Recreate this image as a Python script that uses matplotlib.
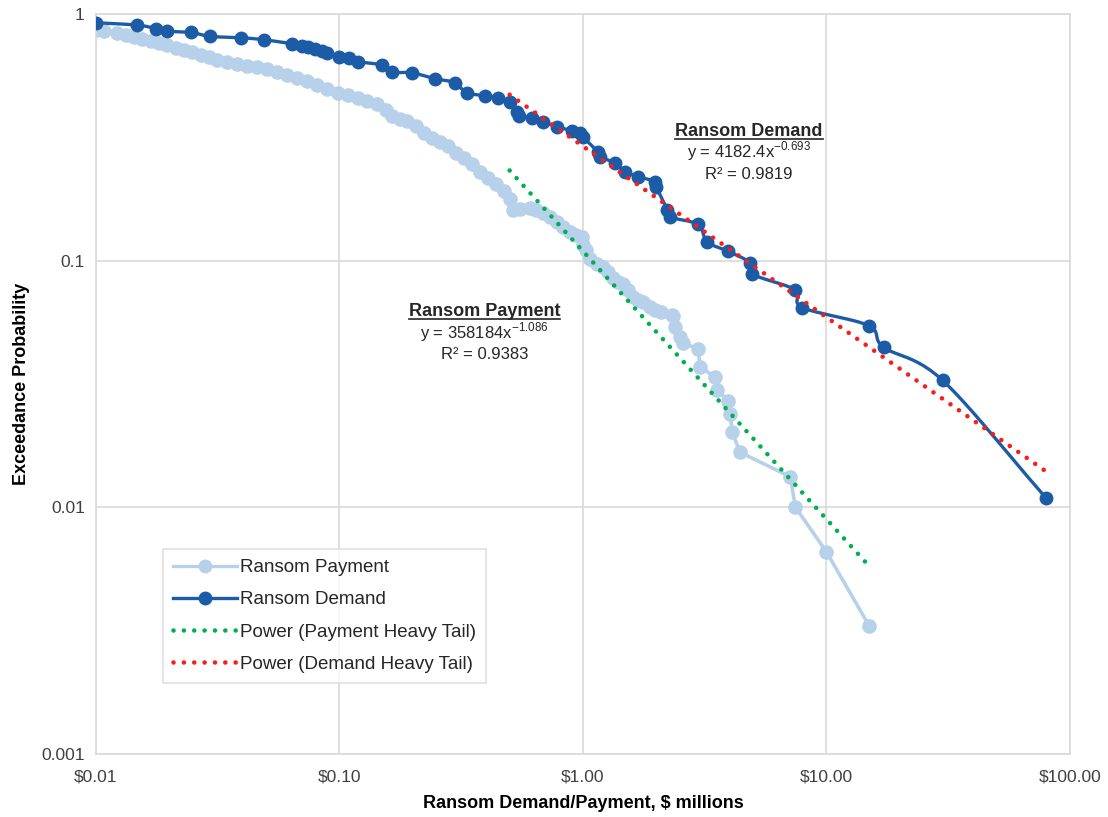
import numpy as np
import matplotlib.pyplot as plt
from matplotlib.lines import Line2D
from matplotlib.ticker import FixedLocator, FixedFormatter, NullLocator

plt.rcParams['font.family'] = ['Liberation Sans', 'DejaVu Sans']

# Ransom payment exceedance curve ($ millions, probability)
pay_x = [0.0100, 0.0108, 0.0122, 0.0133, 0.0143, 0.0155, 0.0168, 0.0182, 0.0196, 0.0213,
         0.0230, 0.0248, 0.0270, 0.0292, 0.0315, 0.0346, 0.0380, 0.0418, 0.0460, 0.0506,
         0.0556, 0.0611, 0.0672, 0.0738, 0.0811, 0.0893, 0.0982, 0.108, 0.119, 0.130,
         0.143, 0.155, 0.164, 0.177, 0.190, 0.206, 0.222, 0.239, 0.258, 0.278,
         0.300, 0.324, 0.349, 0.377, 0.407, 0.439, 0.473, 0.501, 0.515, 0.55,
         0.605, 0.64, 0.685, 0.73, 0.78, 0.83, 0.884, 0.94, 0.99, 1.0,
         1.03, 1.07, 1.14, 1.21, 1.27, 1.33, 1.40, 1.46, 1.53, 1.61,
         1.69, 1.77, 1.88, 1.98, 2.1, 2.32, 2.35, 2.39, 2.51, 2.58,
         2.97, 3.03, 3.49, 3.56, 3.95, 4.03, 4.1, 4.42, 7.11, 7.46,
         10.0, 15.0]
pay_y = [0.861, 0.853, 0.838, 0.822, 0.807, 0.792, 0.777, 0.763, 0.749, 0.728,
         0.715, 0.702, 0.682, 0.670, 0.651, 0.639, 0.628, 0.616, 0.611, 0.599,
         0.582, 0.566, 0.551, 0.535, 0.516, 0.497, 0.479, 0.470, 0.457, 0.444,
         0.432, 0.409, 0.386, 0.376, 0.369, 0.352, 0.330, 0.315, 0.301, 0.290,
         0.274, 0.261, 0.247, 0.229, 0.217, 0.205, 0.192, 0.178, 0.161, 0.162,
         0.164, 0.160, 0.156, 0.150, 0.143, 0.137, 0.131, 0.127, 0.124, 0.116,
         0.110, 0.101, 0.097, 0.094, 0.090, 0.085, 0.082, 0.080, 0.076, 0.071,
         0.069, 0.068, 0.065, 0.0632, 0.062, 0.0600, 0.0595, 0.054, 0.049, 0.0465,
         0.0437, 0.0372, 0.0336, 0.030, 0.027, 0.0239, 0.0202, 0.0167, 0.0133, 0.0100,
         0.0066, 0.0033]

# Ransom demand exceedance curve
dem_x = [0.0100, 0.0148, 0.0177, 0.0196, 0.0246, 0.0295, 0.0395, 0.049, 0.064, 0.070,
         0.074, 0.079, 0.085, 0.089, 0.100, 0.109, 0.119, 0.149, 0.164, 0.198,
         0.248, 0.297, 0.333, 0.395, 0.447, 0.50, 0.535, 0.545, 0.62, 0.685,
         0.78, 0.90, 0.97, 1.0, 1.15, 1.17, 1.35, 1.49, 1.68, 1.98,
         2.0, 2.22, 2.28, 2.97, 3.24, 3.95, 4.86, 4.96, 7.46, 7.96,
         14.9, 17.2, 30.0, 79.8]
dem_y = [0.92, 0.90, 0.87, 0.85, 0.84, 0.81, 0.80, 0.785, 0.756, 0.742,
         0.735, 0.722, 0.708, 0.695, 0.67, 0.664, 0.64, 0.62, 0.58, 0.577,
         0.545, 0.526, 0.479, 0.466, 0.457, 0.44, 0.40, 0.386, 0.379, 0.365,
         0.349, 0.336, 0.33, 0.317, 0.276, 0.264, 0.249, 0.229, 0.219, 0.209,
         0.199, 0.161, 0.15, 0.14, 0.119, 0.109, 0.098, 0.088, 0.076, 0.0645,
         0.0545, 0.0445, 0.0327, 0.0109]

# power-law trendlines as printed on the chart (x in dollars)
pay_fit_coef, pay_fit_exp, pay_fit_range = 358184, -1.086, (0.5, 15.0)
dem_fit_coef, dem_fit_exp, dem_fit_range = 4182.4, -0.693, (0.5, 80.0)

C_PAY = '#b7d1ea'
C_DEM = '#1c5ca6'
C_GREEN = '#00b050'
C_RED = '#ff1a1a'


def smooth_loglog(x, y, n=12):
    # Catmull-Rom through the points in log space (Excel style smoothed line)
    lx, ly = np.log10(x), np.log10(y)
    px = np.concatenate([[2 * lx[0] - lx[1]], lx, [2 * lx[-1] - lx[-2]]])
    py = np.concatenate([[2 * ly[0] - ly[1]], ly, [2 * ly[-1] - ly[-2]]])
    outx, outy = [], []
    t = np.linspace(0, 1, n, endpoint=False)
    for i in range(1, len(px) - 2):
        for arr, out in ((px, outx), (py, outy)):
            p0, p1, p2, p3 = arr[i - 1], arr[i], arr[i + 1], arr[i + 2]
            out.extend(0.5 * (2 * p1 + (-p0 + p2) * t + (2 * p0 - 5 * p1 + 4 * p2 - p3) * t ** 2
                              + (-p0 + 3 * p1 - 3 * p2 + p3) * t ** 3))
    outx.append(lx[-1])
    outy.append(ly[-1])
    return 10 ** np.array(outx), 10 ** np.array(outy)


def power_fit(coef, expo, xr):
    xs = np.array(xr)
    return xs, coef * (xs * 1e6) ** expo


fig = plt.figure(figsize=(11.08, 8.17), dpi=100)
ax = fig.add_axes([0.0866, 0.0771, 0.879, 0.906])
ax.set_xscale('log')
ax.set_yscale('log')
ax.set_xlim(0.01, 100)
ax.set_ylim(0.001, 1)

# payment
ax.plot(pay_x, pay_y, '-', color=C_PAY, lw=2.6, marker='o', ms=9.5, mec=C_PAY, mfc=C_PAY, zorder=2)

# demand
sx, sy = smooth_loglog(dem_x, dem_y)
ax.plot(sx, sy, '-', color=C_DEM, lw=2.4, zorder=3)
ax.plot(dem_x, dem_y, 'o', color=C_DEM, ms=9, zorder=3)

dot = (0, (0.01, 2.25))
gx, gy = power_fit(pay_fit_coef, pay_fit_exp, pay_fit_range)
ax.plot(gx, gy, color=C_GREEN, lw=3.3, linestyle=dot, dash_capstyle='round', zorder=4)
rx, ry = power_fit(dem_fit_coef, dem_fit_exp, dem_fit_range)
ax.plot(rx, ry, color=C_RED, lw=3.3, linestyle=dot, dash_capstyle='round', zorder=4)

# axes styling
ax.xaxis.set_major_locator(FixedLocator([0.01, 0.1, 1, 10, 100]))
ax.xaxis.set_major_formatter(FixedFormatter(['$0.01', '$0.10', '$1.00', '$10.00', '$100.00']))
ax.xaxis.set_minor_locator(NullLocator())
ax.yaxis.set_major_locator(FixedLocator([0.001, 0.01, 0.1, 1]))
ax.yaxis.set_major_formatter(FixedFormatter(['0.001', '0.01', '0.1', '1']))
ax.yaxis.set_minor_locator(NullLocator())
ax.grid(True, which='major', color='#d9d9d9', lw=1.2)
ax.set_axisbelow(True)
for s in ax.spines.values():
    s.set_color('#d9d9d9')
    s.set_linewidth(1.2)
ax.tick_params(length=0, labelsize=12.5, labelcolor='#404040')
ax.tick_params(axis='x', pad=11)
ax.tick_params(axis='y', pad=8)

ax.set_xlabel('Ransom Demand/Payment, $ millions', fontsize=13, fontweight='bold', labelpad=8)
ax.set_ylabel('Exceedance Probability', fontsize=13, fontweight='bold', labelpad=8)

# trendline annotations
def label_block(xf, yf, title, eq_base, eq_exp, r2):
    t = ax.text(xf, yf, title, transform=ax.transAxes, ha='center', va='baseline',
                fontsize=13, fontweight='bold', color='#262626')
    ax.text(xf, yf - 0.03, eq_base + r'$^{\mathregular{' + eq_exp + '}}$',
            transform=ax.transAxes, ha='center', va='baseline', fontsize=12, color='#262626')
    ax.text(xf, yf - 0.058, 'R² = ' + r2, transform=ax.transAxes, ha='center', va='baseline',
            fontsize=12, color='#262626')
    return t

titles = [label_block(0.6705, 0.8355, 'Ransom Demand', 'y = 4182.4x', '-0.693', '0.9819'),
          label_block(0.399, 0.5915, 'Ransom Payment', 'y = 358184x', '-1.086', '0.9383')]

handles = [
    Line2D([], [], color=C_PAY, lw=2.4, marker='o', ms=9),
    Line2D([], [], color=C_DEM, lw=2.4, marker='o', ms=9),
    Line2D([], [], color=C_GREEN, lw=3.3, linestyle=dot, dash_capstyle='round'),
    Line2D([], [], color=C_RED, lw=3.3, linestyle=dot, dash_capstyle='round'),
]
labels = ['Ransom Payment', 'Ransom Demand', 'Power (Payment Heavy Tail)', 'Power (Demand Heavy Tail)']
leg = ax.legend(handles, labels, loc='lower left', bbox_to_anchor=(0.069, 0.096), borderaxespad=0,
                fontsize=13.5, frameon=True, fancybox=False, edgecolor='#d9d9d9', handlelength=3.4,
                handletextpad=0.15, labelspacing=0.8, borderpad=0.55)
leg.get_frame().set_linewidth(1.2)
for t in leg.get_texts():
    t.set_color('#262626')

# underline titles
fig.canvas.draw()
r = fig.canvas.get_renderer()
inv = fig.transFigure.inverted()
for t in titles:
    bb = t.get_window_extent(r)
    (x0, y0), (x1, _) = inv.transform([[bb.x0, bb.y0 + 1], [bb.x1, bb.y0]])
    fig.add_artist(Line2D([x0, x1], [y0, y0], color='#262626', lw=1.2, transform=fig.transFigure))

fig.savefig('out.png', dpi=100)
